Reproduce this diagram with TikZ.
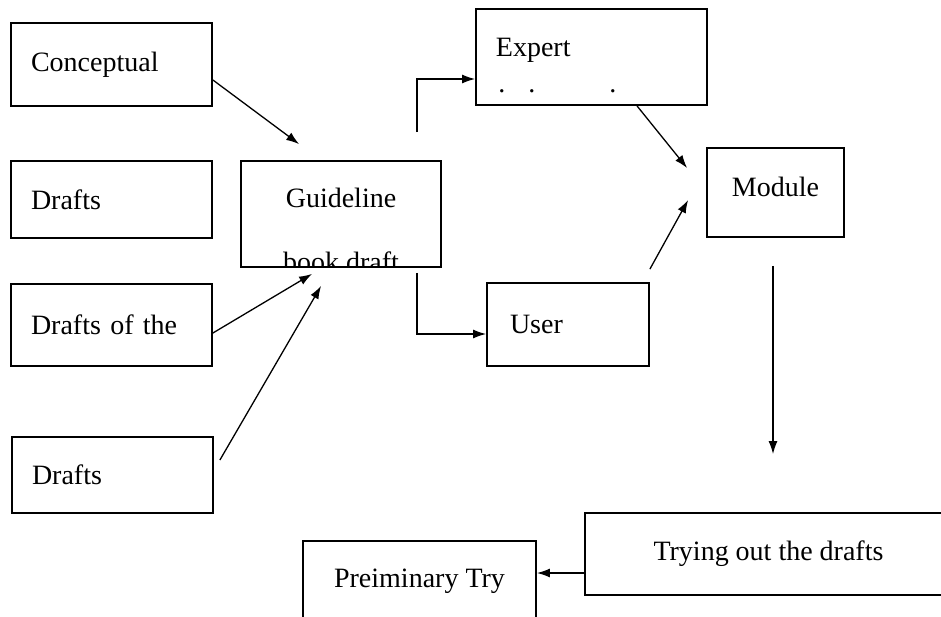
\documentclass[tikz,border=0pt]{standalone}
\usepackage{fontspec}
\setmainfont{Liberation Serif}
\usetikzlibrary{arrows.meta,positioning}
\newcommand{\boxfont}{\fontsize{28pt}{34pt}\selectfont}
\tikzset{
box/.style={draw,line width=1.8pt,inner sep=0pt,font=\boxfont},
leftbox/.style={box,inner xsep=20pt,text width=161pt,align=left,minimum height=#1},
inbox/.style={draw=none,inner sep=0pt,minimum width=0pt,minimum height=0pt,font=\boxfont},
arrow/.style={-{Latex[length=13pt,width=9pt]},line width=1.3pt}
}
\begin{document}
\begin{tikzpicture}[x=1pt,y=-1pt]
\useasboundingbox (0,0) rectangle (941,617);
\clip (0,0) rectangle (941,617);

\node[leftbox=83pt] (concept) at (111.5,64.5) {Conceptual};
\node[leftbox=77pt] (draftsa) at (111.5,199.5) {Drafts};
\node[leftbox=82pt] (draftsb) at (111.5,325) {Drafts of the};
\node[leftbox=76pt] (draftsc) at (112.5,475) {Drafts};

\node[box,minimum width=200pt,minimum height=106pt,path picture={
  \node[inbox,anchor=base] at ([yshift=6pt]path picture bounding box.center) {Guideline};
  \node[inbox,anchor=base] at ([yshift=-58pt]path picture bounding box.center) {book draft};
}] (guide) at (341,214) {};

\node[box,minimum width=231pt,minimum height=96pt,path picture={
  \node[inbox,anchor=base west] at ([xshift=-96.5pt]path picture bounding box.center) {Expert};
  \node[inbox,anchor=base west] at ([xshift=-94pt,yshift=-36pt]path picture bounding box.center) {.\hspace{23pt}.\hspace{74pt}.};
}] (expert) at (591.5,57) {};

\node[box,minimum width=137pt,minimum height=89pt,text height=19pt,text depth=11pt] (module) at (775.5,192.5) {Module};
\node[box,inner xsep=23pt,text width=116pt,align=left,minimum height=83pt] (user) at (568,324.5) {User};
\node[box,minimum width=367pt,minimum height=82pt] (trying) at (768.5,554) {Trying out the drafts};
\node[box,anchor=north,minimum width=233pt,inner ysep=27.5pt,text height=19pt,text depth=30pt] (prelim) at (419.5,540) {Preiminary Try};

\draw[arrow] ([yshift=-15.5pt]concept.east) -- ([xshift=59pt,yshift=16pt]guide.north west);
\draw[arrow] ([yshift=-8pt]draftsb.east) -- ([xshift=72pt,yshift=-6pt]guide.south west);
\draw[arrow] ([xshift=6pt,yshift=15pt]draftsc.east) -- ([xshift=81pt,yshift=-18pt]guide.south west);
\draw[arrow] ([xshift=76pt,yshift=28pt]guide.north) |- ([yshift=-22pt]expert.west);
\draw[arrow] ([xshift=76pt,yshift=-5pt]guide.south) |- ([yshift=-9.5pt]user.west);
\draw[arrow] ([xshift=45.5pt]expert.south) -- ([xshift=-19pt,yshift=24.5pt]module.west);
\draw[arrow] ([yshift=13pt]user.north east) -- ([xshift=-18pt,yshift=-7.5pt]module.west);
\draw[arrow,shorten <=28pt,shorten >=58pt] ([xshift=-2.5pt]module.south) -- ([xshift=-2.5pt]module.south |- trying.north);
\draw[arrow] ([yshift=-19pt]trying.west) -- ([yshift=-19pt]trying.west -| prelim.east);
\end{tikzpicture}
\end{document}
